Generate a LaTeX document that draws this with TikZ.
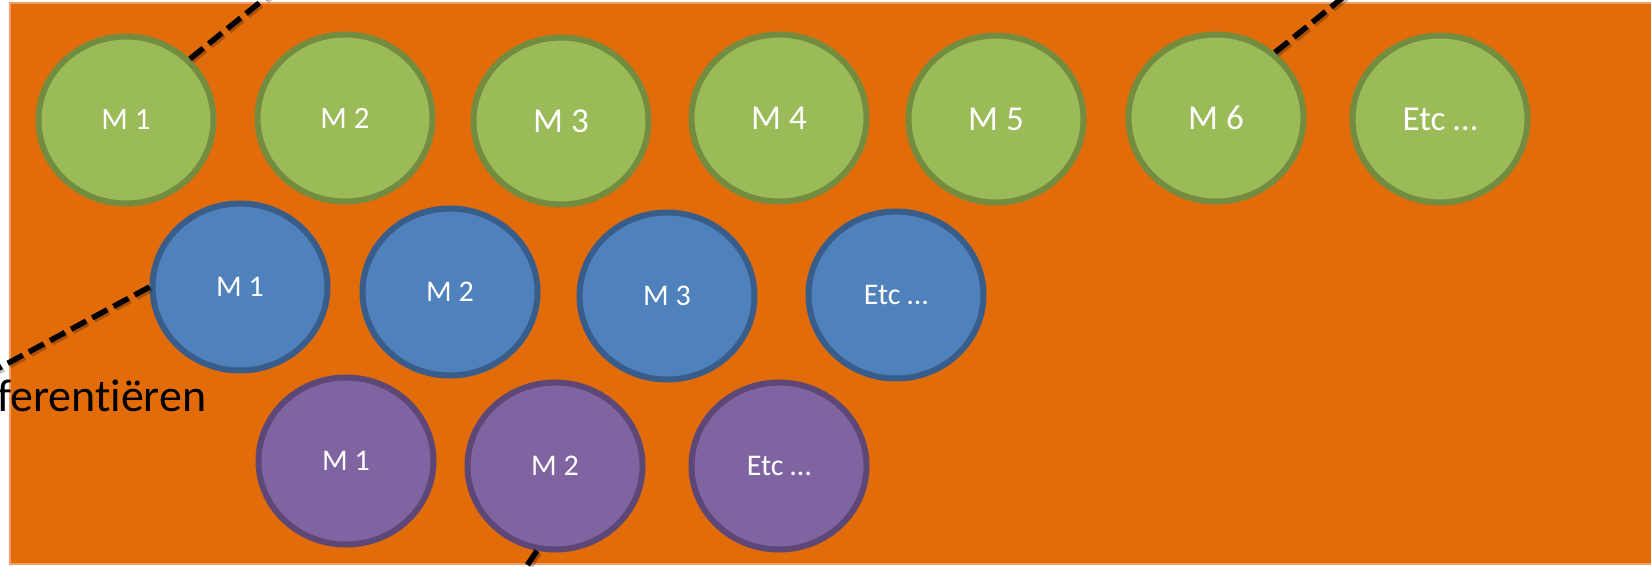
\documentclass[tikz,border=0pt]{standalone}
\usepackage{fontspec}
\setmainfont{Carlito}[Ligatures=NoCommon]
\usetikzlibrary{shapes.geometric}
\definecolor{orfill}{HTML}{E36C0A}
\definecolor{orline}{RGB}{242,158,96}
\definecolor{gfill}{HTML}{9BBB59}
\definecolor{gline}{HTML}{738C40}
\definecolor{bfill}{HTML}{4F81BD}
\definecolor{bline}{HTML}{385D8A}
\definecolor{pfill}{HTML}{8064A2}
\definecolor{pline}{HTML}{5C4776}
\tikzset{
  mball/.style={ellipse, minimum width=175pt, minimum height=167pt, line width=6pt,
    inner sep=0pt, text=white, font=\fontsize{30}{36}\selectfont},
  gball/.style={mball, fill=gfill, draw=gline},
  gbig/.style={gball, font=\fontsize{35}{42}\selectfont},
  gsmall/.style={gball, font=\fontsize{31}{37}\selectfont},
  bball/.style={mball, fill=bfill, draw=bline},
  pball/.style={mball, fill=pfill, draw=pline},
  dline/.style={draw=black, line width=5.5pt, dash pattern=on 17pt off 7pt},
  dshadow/.style={draw=black, line width=6.5pt, dash pattern=on 17pt off 7pt, opacity=0.25,
    transform canvas={shift={(1.8pt,-1.8pt)}}},
  bigtext/.style={anchor=base west, inner sep=0pt, text=black, font=\fontsize{46}{55}\selectfont}
}
\begin{document}
\begin{tikzpicture}[x=1pt,y=-1pt]
\useasboundingbox (0,0) rectangle (1651,566);
\clip (0,0) rectangle (1651,566);
\fill[white] (0,0) rectangle (1651,566);
\draw[line width=2pt, draw=orline, fill=orfill] (10,3) rectangle (1668,564);
% green row
\node[gsmall] (g1) at (126,120) {M 1};
\node[gsmall] (g2) at (345,118) {M 2};
\node[gbig] (g3) at (561,121) {M 3};
\node[gbig] (g4) at (779,118) {M 4};
\node[gbig] (g5) at (996,119) {M 5};
\node[gbig] (g6) at (1216,118) {M 6};
\node[gbig] (g7) at (1440,119) {Etc …};
% blue row
\node[bball] (b1) at (240,287) {M 1};
\node[bball] (b2) at (450,292) {M 2};
\node[bball] (b3) at (667,296) {M 3};
\node[bball] (b4) at (896,295) {Etc …};
% purple row
\node[pball] (p1) at (346,461) {M 1};
\node[pball] (p2) at (555,466) {M 2};
\node[pball] (p3) at (779,466) {Etc …};
% free ends of connectors
\coordinate (e1) at (300,-30);
\coordinate (e2) at (1362,-18);
\coordinate (e3) at (-40,389);
\coordinate (e4) at (517,580);
% shadows
\draw[dshadow] (g1.north east) -- (e1);
\draw[dshadow] (g6.48) -- (e2);
\draw[dshadow] (b1.west) -- (e3);
\draw[dshadow] (p2.258) -- (e4);
% connectors
\draw[dline] (g1.north east) -- (e1);
\draw[dline] (g6.48) -- (e2);
\draw[dline] (b1.west) -- (e3);
\draw[dline] (p2.258) -- (e4);
% text
\node[bigtext] (diff) at (-3,411) {ferentiëren};
\end{tikzpicture}
\end{document}
